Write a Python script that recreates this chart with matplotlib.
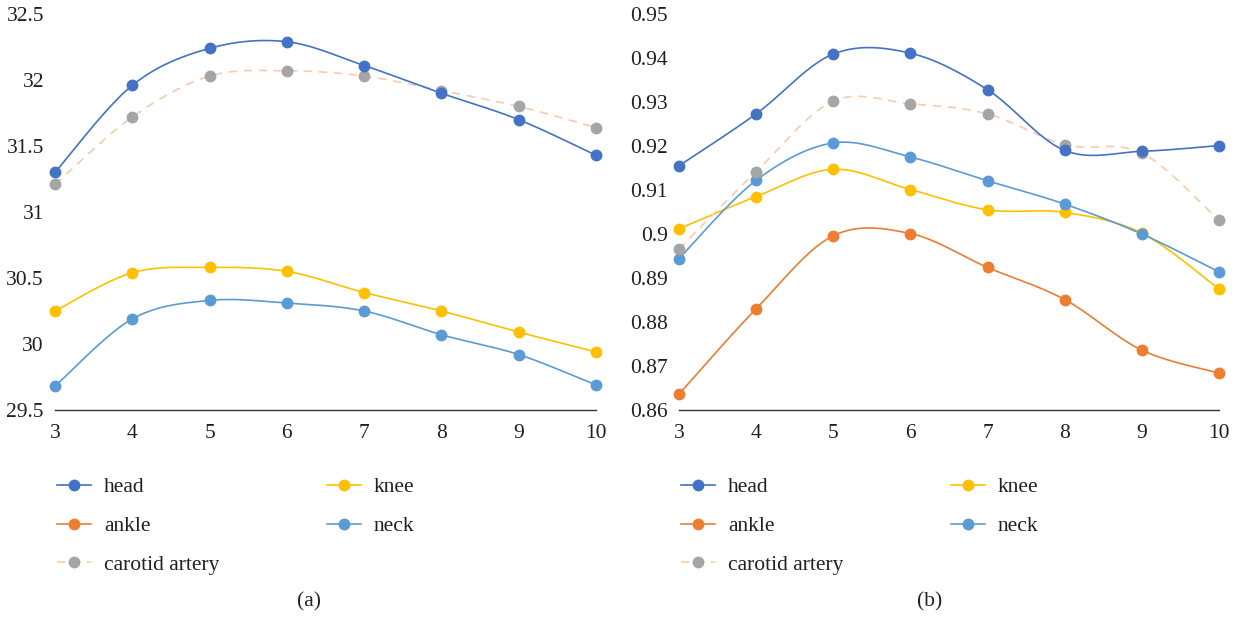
import numpy as np
import matplotlib
matplotlib.use("Agg")
import matplotlib.pyplot as plt
from matplotlib.ticker import FuncFormatter

plt.rcParams["font.family"] = ["Liberation Serif", "DejaVu Serif"]
plt.rcParams["text.color"] = "#231f20"

# data
x = [3, 4, 5, 6, 7, 8, 9, 10]
labels = ["head", "ankle", "carotid artery", "knee", "neck"]

head_a = [31.30, 31.96, 32.24, 32.29, 32.11, 31.90, 31.70, 31.43]
knee_a = [30.25, 30.54, 30.58, 30.55, 30.39, 30.25, 30.09, 29.94]
neck_a = [29.68, 30.19, 30.33, 30.31, 30.25, 30.07, 29.92, 29.69]
carotid_a = [31.21, 31.72, 32.03, 32.07, 32.03, 31.92, 31.80, 31.64]
ankle_a = []  # below the visible range in (a)

head_b = [0.9155, 0.9273, 0.9409, 0.9411, 0.9328, 0.9190, 0.9188, 0.9201]
ankle_b = [0.8636, 0.8830, 0.8996, 0.9001, 0.8924, 0.8851, 0.8736, 0.8684]
knee_b = [0.9012, 0.9085, 0.9147, 0.9101, 0.9055, 0.9049, 0.9002, 0.8875]
neck_b = [0.8944, 0.9122, 0.9207, 0.9175, 0.9121, 0.9068, 0.9000, 0.8914]
carotid_b = [0.8966, 0.9142, 0.9302, 0.9296, 0.9273, 0.9203, 0.9184, 0.9031]

yticks_a = [29.5, 30, 30.5, 31, 31.5, 32, 32.5]
yticks_b = [0.86, 0.87, 0.88, 0.89, 0.90, 0.91, 0.92, 0.93, 0.94, 0.95]

styles = {
    "head": dict(color="#4472C4", mfc="#4472C4", ls="-"),
    "ankle": dict(color="#ED7D31", mfc="#ED7D31", ls="-"),
    "carotid artery": dict(color="#F8CBAD", mfc="#A5A5A5", ls=(0, (5, 4))),
    "knee": dict(color="#FFC000", mfc="#FFC000", ls="-"),
    "neck": dict(color="#5B9BD5", mfc="#5B9BD5", ls="-"),
}

FS = 15.5


def smooth(xs, ys, n=40):
    # excel-like smoothed line (bezier through the points)
    p = np.column_stack([xs, ys]).astype(float)
    out = []
    for i in range(len(p) - 1):
        p0 = p[i - 1] if i > 0 else p[i]
        p1, p2 = p[i], p[i + 1]
        p3 = p[i + 2] if i + 2 < len(p) else p[i + 1]
        c1 = p1 + (p2 - p0) / 6
        c2 = p2 - (p3 - p1) / 6
        t = np.linspace(0, 1, n)[:, None]
        seg = ((1 - t) ** 3 * p1 + 3 * (1 - t) ** 2 * t * c1
               + 3 * (1 - t) * t ** 2 * c2 + t ** 3 * p2)
        out.append(seg if i == 0 else seg[1:])
    out = np.vstack(out)
    return out[:, 0], out[:, 1]


fig = plt.figure(figsize=(12.39, 6.18), dpi=100)
ax1 = fig.add_axes([0.0444, 0.3366, 0.4366, 0.6407])
ax2 = fig.add_axes([0.548, 0.3366, 0.4358, 0.6407])

series_a = {"head": head_a, "ankle": ankle_a, "carotid artery": carotid_a,
            "knee": knee_a, "neck": neck_a}
series_b = {"head": head_b, "ankle": ankle_b, "carotid artery": carotid_b,
            "knee": knee_b, "neck": neck_b}

draw_order = ["ankle", "knee", "neck", "carotid artery", "head"]

for ax, series, yt, ylim in [(ax1, series_a, yticks_a, (29.5, 32.5)),
                             (ax2, series_b, yticks_b, (0.86, 0.95))]:
    for name in draw_order:
        vals = series[name]
        st = styles[name]
        if len(vals):
            sx, sy = smooth(x, vals)
            ax.plot(sx, sy, color=st["color"], ls=st["ls"], lw=1.2,
                    clip_on=False, zorder=2)
            ax.plot(x, vals, ls="none", marker="o", ms=7.5,
                    mfc=st["mfc"], mec=st["mfc"], clip_on=False, zorder=3)
    handles = []
    for name in labels:
        st = styles[name]
        h, = ax.plot([], [], color=st["color"], ls=st["ls"], lw=1.2,
                     marker="o", ms=7.5, mfc=st["mfc"], mec=st["mfc"])
        handles.append(h)
    ax.set_xlim(3, 10)
    ax.set_ylim(*ylim)
    ax.set_xticks(x)
    ax.set_yticks(yt)
    ax.yaxis.set_major_formatter(FuncFormatter(lambda v, p: f"{v:g}"))
    for s in ["top", "right", "left"]:
        ax.spines[s].set_visible(False)
    ax.spines["bottom"].set_color("#333333")
    ax.spines["bottom"].set_linewidth(1.0)
    ax.tick_params(axis="both", length=0, labelsize=FS, colors="#231f20")
    ax.tick_params(axis="x", pad=10)
    ax.tick_params(axis="y", pad=8)
    ax.legend(handles=handles, labels=labels, ncol=2, frameon=False,
              fontsize=FS, loc="upper left",
              bbox_to_anchor=(-0.012, -0.148), handlelength=1.58,
              handletextpad=0.6, columnspacing=5.0, labelspacing=0.87,
              borderaxespad=0)

fig.text(309 / 1239, 1 - 602 / 618, "(a)", ha="center", va="center", fontsize=FS)
fig.text(930 / 1239, 1 - 602 / 618, "(b)", ha="center", va="center", fontsize=FS)

fig.savefig("out.png", dpi=100)
